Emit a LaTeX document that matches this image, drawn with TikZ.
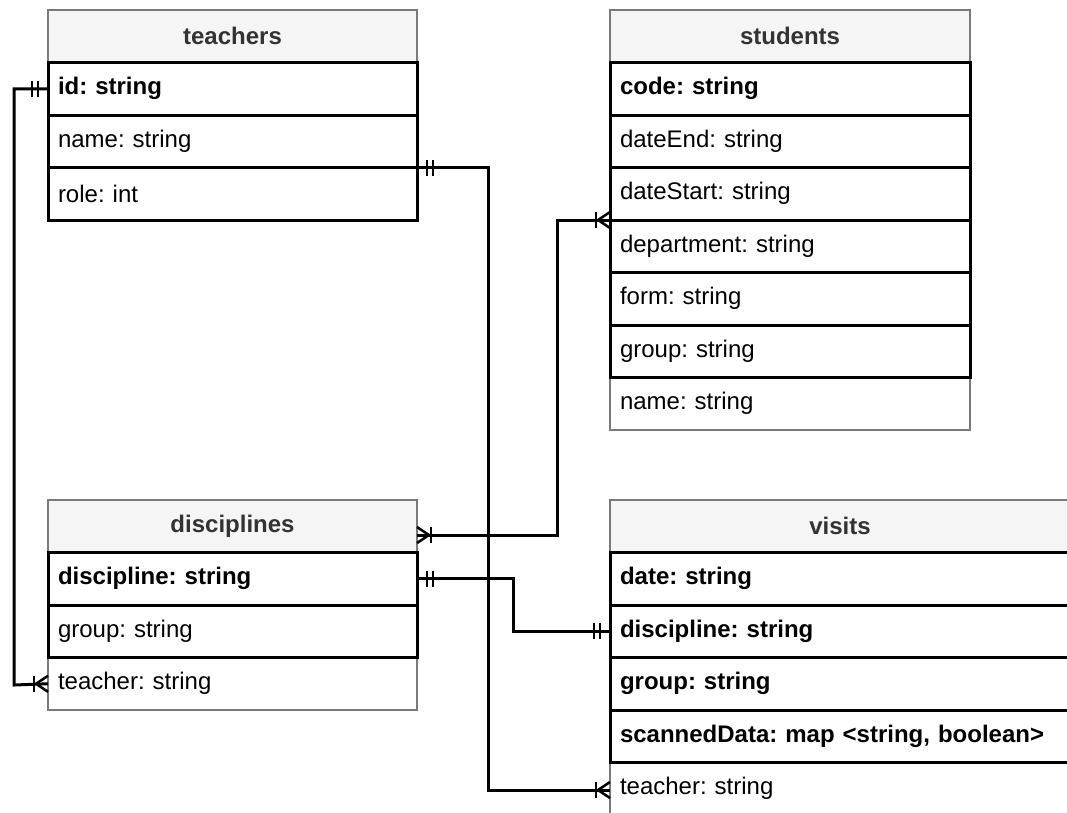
\documentclass[tikz,border=0pt]{standalone}
\usepackage{fontspec}
\setmainfont{Liberation Sans}
\usetikzlibrary{calc}
\frenchspacing
\definecolor{hdrfill}{HTML}{F5F5F5}
\definecolor{hdrgray}{HTML}{7A7A7A}
\definecolor{hdrtxt}{HTML}{333333}
\tikzset{
  tbl/.style={minimum height=52.5pt, inner ysep=0pt, inner xsep=10pt, outer sep=0pt, anchor=north west,
    font=\fontsize{24pt}{28pt}\selectfont},
  hdr/.style={tbl, draw=hdrgray, line width=2pt, fill=hdrfill, align=center,
    font=\fontsize{24pt}{28pt}\selectfont\bfseries, text=hdrtxt},
  row/.style={tbl, draw=black, line width=3pt, fill=white, align=left},
  keyrow/.style={row, font=\fontsize{24pt}{28pt}\selectfont\bfseries},
  lastrow/.style={row, draw=hdrgray, line width=2pt},
  conn/.style={draw=black, line width=3pt, line join=miter},
  mk/.style={draw=black, line width=2.5pt}
}
\begin{document}
\begin{tikzpicture}[x=1pt,y=-1pt]
\clip (0,0) rectangle (1067,812);
\fill[white] (0,0) rectangle (1067,812);

% ---------- teachers ----------
\node[hdr, text width=349pt] (th) at (48,10) {teachers};
\node[keyrow, text width=349pt] (tid) at (48,62.5) {id: string};
\node[row, text width=349pt] (tname) at (48,115) {name: string};
\node[row, text width=349pt] (trole) at (48,167.5) {role: int};

% ---------- students ----------
\node[hdr, text width=340pt] (sh) at (610,10) {students};
\node[lastrow, text width=340pt] (sname) at (610,377.5) {name: string};
\node[keyrow, text width=340pt] (scode) at (610,62.5) {code: string};
\node[row, text width=340pt] (send) at (610,115) {dateEnd: string};
\node[row, text width=340pt] (sstart) at (610,167.5) {dateStart: string};
\node[row, text width=340pt] (sdep) at (610,220) {department: string};
\node[row, text width=340pt] (sform) at (610,272.5) {form: string};
\node[row, text width=340pt] (sgroup) at (610,325) {group: string};

% ---------- disciplines ----------
\node[hdr, text width=349pt] (dh) at (48,500) {disciplines};
\node[lastrow, text width=349pt] (dteacher) at (48,657.5) {teacher: string};
\node[keyrow, text width=349pt] (ddisc) at (48,552.5) {discipline: string};
\node[row, text width=349pt] (dgroup) at (48,605) {group: string};

% ---------- visits (runs past the right edge) ----------
\node[hdr, text width=450pt] (vh) at (610,500) {};
\node[font=\fontsize{24pt}{28pt}\selectfont\bfseries, text=hdrtxt] (vhtext) at (840,526) {visits};
\node[lastrow, text width=450pt] (vteacher) at (610,762.5) {teacher: string};
\node[keyrow, text width=450pt] (vdate) at (610,552.5) {date: string};
\node[keyrow, text width=450pt] (vdisc) at (610,605) {discipline: string};
\node[keyrow, text width=450pt] (vgroup) at (610,657.5) {group: string};
\node[keyrow, text width=450pt] (vscan) at (610,710) {scannedData: map <string, boolean>};

% ---------- connectors ----------
% teachers.id -> disciplines.teacher
\coordinate (c1a) at (tid.west);
\coordinate (c1b) at (dteacher.west);
\draw[conn] (c1a) -| (14,685) -- (c1b);
\draw[mk] ($(c1a)+(-10,-8)$) -- ++(0,16);
\draw[mk] ($(c1a)+(-16,-8)$) -- ++(0,16);
\draw[mk] ($(c1b)+(-14,-8)$) -- ++(0,16);
\draw[mk] ($(c1b)+(-12,0)$) -- ($(c1b)+(0,-8)$);
\draw[mk] ($(c1b)+(-12,0)$) -- ($(c1b)+(0,8)$);

% teachers (name/role) -> visits.teacher
\coordinate (c2a) at (tname.south east);
\coordinate (c2b) at (vteacher.west |- 0,790);
\draw[conn] (c2a) -| (488,790) -- (c2b);
\draw[mk] ($(c2a)+(10,-8)$) -- ++(0,16);
\draw[mk] ($(c2a)+(16,-8)$) -- ++(0,16);
\draw[mk] ($(c2b)+(-14,-8)$) -- ++(0,16);
\draw[mk] ($(c2b)+(-12,0)$) -- ($(c2b)+(0,-8)$);
\draw[mk] ($(c2b)+(-12,0)$) -- ($(c2b)+(0,8)$);

% students (dateStart/department) -> disciplines header
\coordinate (c3a) at (sstart.south west);
\coordinate (c3b) at (dh.east |- 0,535);
\draw[conn] (c3a) -| (557,535) -- (c3b);
\draw[mk] ($(c3a)+(-14,-8)$) -- ++(0,16);
\draw[mk] ($(c3a)+(-12,0)$) -- ($(c3a)+(0,-8)$);
\draw[mk] ($(c3a)+(-12,0)$) -- ($(c3a)+(0,8)$);
\draw[mk] ($(c3b)+(14,-8)$) -- ++(0,16);
\draw[mk] ($(c3b)+(12,0)$) -- ($(c3b)+(0,-8)$);
\draw[mk] ($(c3b)+(12,0)$) -- ($(c3b)+(0,8)$);

% disciplines.discipline -> visits.discipline
\coordinate (c4a) at (ddisc.east);
\coordinate (c4b) at (vdisc.west);
\draw[conn] (c4a) -| (513,631.25) -- (c4b);
\draw[mk] ($(c4a)+(10,-8)$) -- ++(0,16);
\draw[mk] ($(c4a)+(16,-8)$) -- ++(0,16);
\draw[mk] ($(c4b)+(-10,-8)$) -- ++(0,16);
\draw[mk] ($(c4b)+(-16,-8)$) -- ++(0,16);
\end{tikzpicture}
\end{document}
